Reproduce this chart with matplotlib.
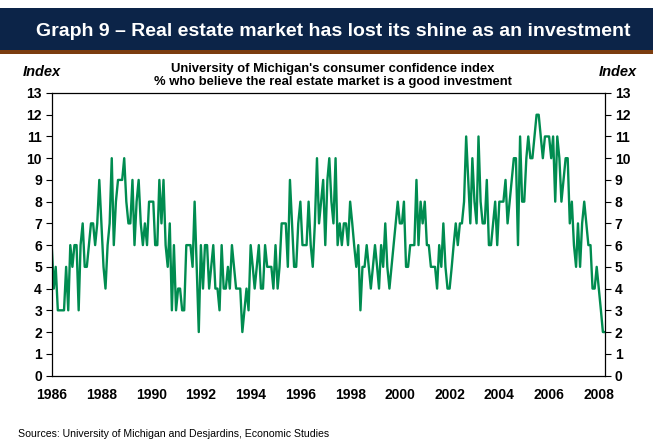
import numpy as np
import pandas as pd
import matplotlib
matplotlib.use("Agg")
import matplotlib.pyplot as plt
from matplotlib.patches import Rectangle

plt.rcParams['font.family'] = ['Liberation Sans', 'DejaVu Sans']

# % who believe the real estate market is a good investment (monthly, Jan 1986 - Apr 2008)
y1986 = [6, 4, 5, 3, 3, 3, 3, 5, 3, 6, 5, 6]
y1987 = [6, 3, 6, 7, 5, 5, 6, 7, 7, 6, 7, 9]
y1988 = [7, 5, 4, 6, 7, 10, 6, 8, 9, 9, 9, 10]
y1989 = [8, 7, 7, 9, 6, 8, 9, 7, 6, 7, 6, 8]
y1990 = [8, 8, 6, 6, 9, 7, 9, 6, 5, 7, 3, 6]
y1991 = [3, 4, 4, 3, 3, 6, 6, 6, 5, 8, 5, 2]
y1992 = [6, 4, 6, 6, 4, 5, 6, 4, 4, 3, 6, 4]
y1993 = [4, 5, 4, 6, 5, 4, 4, 4, 2, 3, 4, 3]
y1994 = [6, 5, 4, 5, 6, 4, 4, 6, 5, 5, 5, 4]
y1995 = [6, 4, 5, 7, 7, 7, 5, 9, 7, 5, 5, 7]
y1996 = [8, 6, 6, 6, 8, 6, 5, 7, 10, 7, 8, 9]
y1997 = [6, 9, 10, 8, 7, 10, 6, 7, 6, 7, 7, 6]
y1998 = [8, 7, 6, 5, 6, 3, 5, 5, 6, 5, 4, 5]
y1999 = [6, 5, 4, 6, 5, 7, 5, 4, 5, 6, 7, 8]
y2000 = [7, 7, 8, 5, 5, 6, 6, 6, 9, 6, 8, 7]
y2001 = [8, 6, 6, 5, 5, 5, 4, 6, 5, 7, 5, 4]
y2002 = [4, 5, 6, 7, 6, 7, 7, 8, 11, 9, 7, 10]
y2003 = [8, 7, 11, 8, 7, 7, 9, 6, 6, 7, 8, 6]
y2004 = [8, 8, 8, 9, 7, 8, 9, 10, 10, 6, 11, 8]
y2005 = [8, 10, 11, 10, 10, 11, 12, 12, 11, 10, 11, 11]
y2006 = [11, 10, 11, 8, 11, 10, 8, 9, 10, 10, 7, 8]
y2007 = [6, 5, 7, 5, 7, 8, 7, 6, 6, 4, 4, 5]
y2008 = [4, 3, 2, 2]

values = (y1986 + y1987 + y1988 + y1989 + y1990 + y1991 + y1992 + y1993 +
          y1994 + y1995 + y1996 + y1997 + y1998 + y1999 + y2000 + y2001 +
          y2002 + y2003 + y2004 + y2005 + y2006 + y2007 + y2008)
dates = pd.date_range('1986-01-01', periods=len(values), freq='MS')
tick_years = list(range(1986, 2009, 2))

W, H = 653, 440
fig = plt.figure(figsize=(W / 100, H / 100), dpi=100)

# header band
fig.patches.append(Rectangle((0, 1 - 50 / H), 1, 42 / H, transform=fig.transFigure,
                             facecolor='#0c2448', edgecolor='none'))
fig.patches.append(Rectangle((0, 1 - 54 / H), 1, 4 / H, transform=fig.transFigure,
                             facecolor='#7b3d0f', edgecolor='none'))
fig.text(333 / W, 1 - 31 / H, 'Graph 9 \u2013 Real estate market has lost its shine as an investment',
         color='white', fontsize=14, fontweight='bold', ha='center', va='center')

ax = fig.add_axes([51.7 / W, 1 - 375.5 / H, (605 - 51.7) / W, (375.5 - 93) / H])
ax.plot(dates, values, color='#008c50', lw=1.7)

ax.set_xlim(dates[0], dates[-1])
ax.set_ylim(0, 13)
ax.set_yticks(range(0, 14))
ax.set_xticks([pd.Timestamp(f'{y}-01-01') for y in tick_years])
ax.set_xticklabels([str(y) for y in tick_years])
ax.tick_params(axis='x', length=0, pad=9, labelsize=10)
ax.tick_params(axis='y', length=4, width=0.8, direction='out', labelsize=10,
               left=True, right=True, labelleft=True, labelright=True, pad=3)
for lab in ax.get_xticklabels() + ax.get_yticklabels():
    lab.set_fontweight('bold')
for s in ax.spines.values():
    s.set_linewidth(0.9)

fig.text(23 / W, 1 - 72 / H, 'Index', fontsize=10.5, fontweight='bold', style='italic',
         ha='left', va='center')
fig.text(637 / W, 1 - 72 / H, 'Index', fontsize=10.5, fontweight='bold', style='italic',
         ha='right', va='center')
fig.text(333 / W, 1 - 69 / H, "University of Michigan's consumer confidence index",
         fontsize=9.4, fontweight='bold', ha='center', va='center')
fig.text(333 / W, 1 - 82 / H, '% who believe the real estate market is a good investment',
         fontsize=9.4, fontweight='bold', ha='center', va='center')

fig.text(18 / W, 1 - 434 / H, 'Sources: University of Michigan and Desjardins, Economic Studies',
         fontsize=7.6, ha='left', va='center')

fig.savefig('out.png', dpi=100)
